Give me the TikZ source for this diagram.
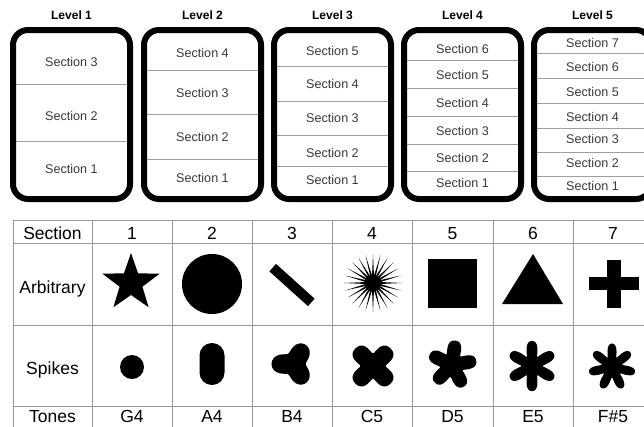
\documentclass[tikz,border=0pt]{standalone}
\usepackage{fontspec}
\setmainfont{Liberation Sans}
\begin{document}
\begin{tikzpicture}[x=1pt,y=-1pt,
  lvlbox/.style={line width=6pt, rounded corners=15pt},
  divline/.style={draw=black!38, line width=0.9pt},
  sectext/.style={font=\fontsize{12.6}{14}\selectfont, text=black!78, inner sep=0pt},
  lvltitle/.style={font=\bfseries\fontsize{12}{14}\selectfont, inner sep=0pt},
  gridline/.style={draw=black!40, line width=1pt},
  celltext/.style={font=\fontsize{17.5}{20}\selectfont, inner sep=0pt, anchor=base},
  shapefill/.style={fill=black}
]
\useasboundingbox (0,0) rectangle (644,426);
\begin{scope}
\clip (0,0) rectangle (644,426);
% ---------- level boxes ----------
\foreach \xl/\n/\divs/\txts in {
  10/1/{84,141}/{62/3,116/2,169/1},
  141/2/{70,114,159}/{53/4,93/3,137/2,178/1},
  271/3/{66,101,135,166}/{51/5,84/4,118/3,153/2,180/1},
  401/4/{60,88,116,144,171}/{49/6,75/5,103/4,131/3,158/2,183/1},
  531/5/{53,78,103,128,152,176}/{43/7,67/6,92/5,117/4,139/3,163/2,186/1}}{
  \node[lvltitle] (lvl\n) at (\xl+61.5,15) {Level \n};
  \foreach \d in \divs {
    \draw[divline] (\xl+5,\d) -- (\xl+118,\d);
  }
  \foreach \ty/\s in \txts {
    \node[sectext] (lvl\n-s\s) at (\xl+61.5,\ty) {Section \s};
  }
  \draw[lvlbox] (\xl+3,30) rectangle (\xl+120,199);
}
% ---------- table grid ----------
\foreach \x in {13,92,172,252,332,412,493,573,653}{
  \draw[gridline] (\x,220) -- (\x,440);
}
\foreach \y in {220,243,325,406}{
  \draw[gridline] (13,\y) -- (660,\y);
}
% ---------- table texts ----------
\node[celltext] (hdr) at (52.5,239) {Section};
\node[celltext] (arb) at (52.5,293) {Arbitrary};
\node[celltext] (spk) at (52.5,374) {Spikes};
\node[celltext] (tones) at (52.5,422) {Tones};
\foreach \x/\t [count=\i] in {132/G4,212/A4,292/B4,372/C5,452.5/D5,533/E5,613/F\#5}{
  \node[celltext] (num\i) at (\x,239) {\i};
  \node[celltext] (tone\i) at (\x,422) {\t};
}
% ---------- arbitrary shapes ----------
% star
\fill[shapefill, shift={(131,283)}] (-90:30) -- (-54:12) -- (-18:30) -- (18:12) -- (54:30) -- (90:12)
  -- (126:30) -- (162:12) -- (198:30) -- (234:12) -- cycle;
% circle
\fill[shapefill] (212,284) circle[radius=30];
% bar
\fill[shapefill, rotate around={-42:(292,285)}] (266,280) rectangle (318,290);
% starburst
\begin{scope}[shift={(373,283)}]
  \foreach \a in {0,15,...,345}{
    \fill[shapefill] (\a+90:1.3) -- (\a:29) -- (\a-90:1.3) -- cycle;
  }
  \fill[shapefill] (0,0) circle[radius=6];
\end{scope}
% square
\fill[shapefill] (428,259) rectangle (477,308);
% triangle
\fill[shapefill] (533,254) -- (563,304) -- (502,304) -- cycle;
% plus
\fill[shapefill] (589,277) rectangle (639,290);
\fill[shapefill] (607,260) rectangle (621,308);
% ---------- spikes shapes ----------
\fill[shapefill] (132,367) circle[radius=12];
\fill[shapefill, rounded corners=12.4pt] (199.5,343) rectangle (224.5,385);
% three lobes
\fill[shapefill, shift={(294,364)}] plot[domain=0:360, samples=241]
  (\x:{17.5*(1+0.3*cos(3*(\x-180))-0.02*cos(6*(\x-180)))}) -- cycle;
% four lobes
\fill[shapefill, shift={(373,366)}] plot[domain=0:360, samples=241]
  (\x:{20*(1+0.3*cos(4*(\x-45))-0.06*cos(8*(\x-45)))}) -- cycle;
% five lobes
\fill[shapefill, shift={(452,365)}] plot[domain=0:360, samples=241]
  (\x:{19.5*(1+0.32*cos(5*(\x+82))-0.06*cos(10*(\x+82)))}) -- cycle;
% six lobes
\fill[shapefill, shift={(532,366)}] plot[domain=0:360, samples=241]
  (\x:{19*(1+0.38*cos(6*(\x+90))-0.06*cos(12*(\x+90)))}) -- cycle;
% seven lobes
\fill[shapefill, shift={(612,367)}] plot[domain=0:360, samples=241]
  (\x:{18*(1+0.36*cos(7*(\x+90))-0.06*cos(14*(\x+90)))}) -- cycle;
\end{scope}
\end{tikzpicture}
\end{document}
